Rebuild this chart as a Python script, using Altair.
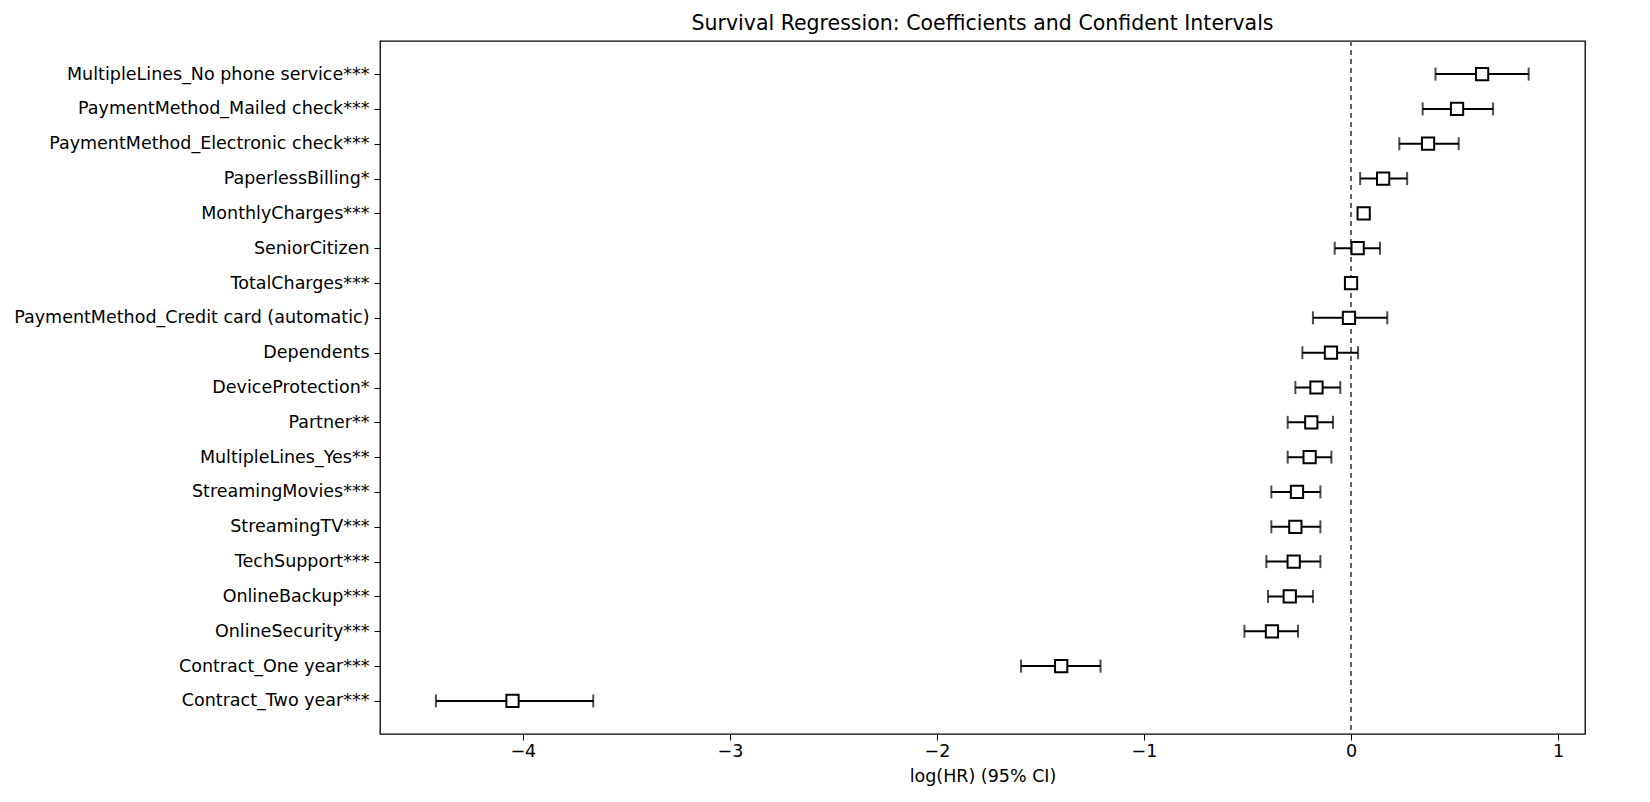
import altair as alt
import pandas as pd

names = ["MultipleLines_No phone service***", "PaymentMethod_Mailed check***",
         "PaymentMethod_Electronic check***", "PaperlessBilling*", "MonthlyCharges***",
         "SeniorCitizen", "TotalCharges***", "PaymentMethod_Credit card (automatic)",
         "Dependents", "DeviceProtection*", "Partner**", "MultipleLines_Yes**",
         "StreamingMovies***", "StreamingTV***", "TechSupport***", "OnlineBackup***",
         "OnlineSecurity***", "Contract_One year***", "Contract_Two year***"]
coef = [0.633, 0.512, 0.372, 0.155, 0.061, 0.032, 0.0, -0.01, -0.097, -0.167, -0.192,
        -0.2, -0.261, -0.269, -0.277, -0.296, -0.382, -1.40, -4.05]
lower = [0.408, 0.346, 0.233, 0.044, 0.052, -0.079, -0.005, -0.184, -0.235, -0.269,
         -0.306, -0.306, -0.385, -0.385, -0.409, -0.401, -0.515, -1.594, -4.42]
upper = [0.858, 0.686, 0.52, 0.271, 0.07, 0.14, 0.005, 0.175, 0.034, -0.052, -0.087,
         -0.095, -0.148, -0.148, -0.148, -0.184, -0.256, -1.21, -3.66]

df = pd.DataFrame({"name": names, "coef": coef, "lower": lower, "upper": upper})

FONT = "DejaVu Sans"
xs = alt.Scale(domain=[-4.69, 1.13], nice=False, zero=False)
ys = alt.Scale(type="point", padding=0.95)
y = alt.Y("name:N", sort=names, scale=ys, title=None,
          axis=alt.Axis(labelFontSize=17.5, labelColor="black", tickColor="black",
                        tickSize=6, labelPadding=5, domain=False, labelLimit=600))
xaxis = alt.Axis(values=[-4, -3, -2, -1, 0, 1], grid=False, labelFontSize=17.5,
                 labelColor="black", tickColor="black", tickSize=6, domain=False,
                 titleFontSize=17.5, titleFontWeight="normal", titleColor="black",
                 format="d", titlePadding=8)

base = alt.Chart(df)
zero = base.mark_rule(strokeDash=[5, 4], color="#666666", strokeWidth=1.3).encode(
    x=alt.datum(0, scale=xs))
bars = base.mark_rule(color="black", strokeWidth=2).encode(
    x=alt.X("lower:Q", scale=xs, axis=xaxis, title="log(HR) (95% CI)"), x2="upper:Q", y=y)
capl = base.mark_tick(color="black", orient="vertical", size=13, thickness=2).encode(
    x=alt.X("lower:Q", scale=xs), y=y)
capu = base.mark_tick(color="black", orient="vertical", size=13, thickness=2).encode(
    x=alt.X("upper:Q", scale=xs), y=y)
pts = base.mark_point(shape="square", filled=True, fill="white", stroke="black",
                      strokeWidth=2, size=150, opacity=1).encode(
    x=alt.X("coef:Q", scale=xs), y=y)

chart = alt.layer(zero, bars, capl, capu, pts).properties(
    width=1205, height=693,
    title=alt.TitleParams("Survival Regression: Coefficients and Confident Intervals",
                          fontSize=20.5, fontWeight="normal", font=FONT, color="black",
                          offset=6),
).configure(font=FONT).configure_view(stroke="black", strokeWidth=1.3).configure_axis(
    labelFont=FONT, titleFont=FONT)

chart.save("out.html", embed_options={"renderer": "svg", "actions": False})
